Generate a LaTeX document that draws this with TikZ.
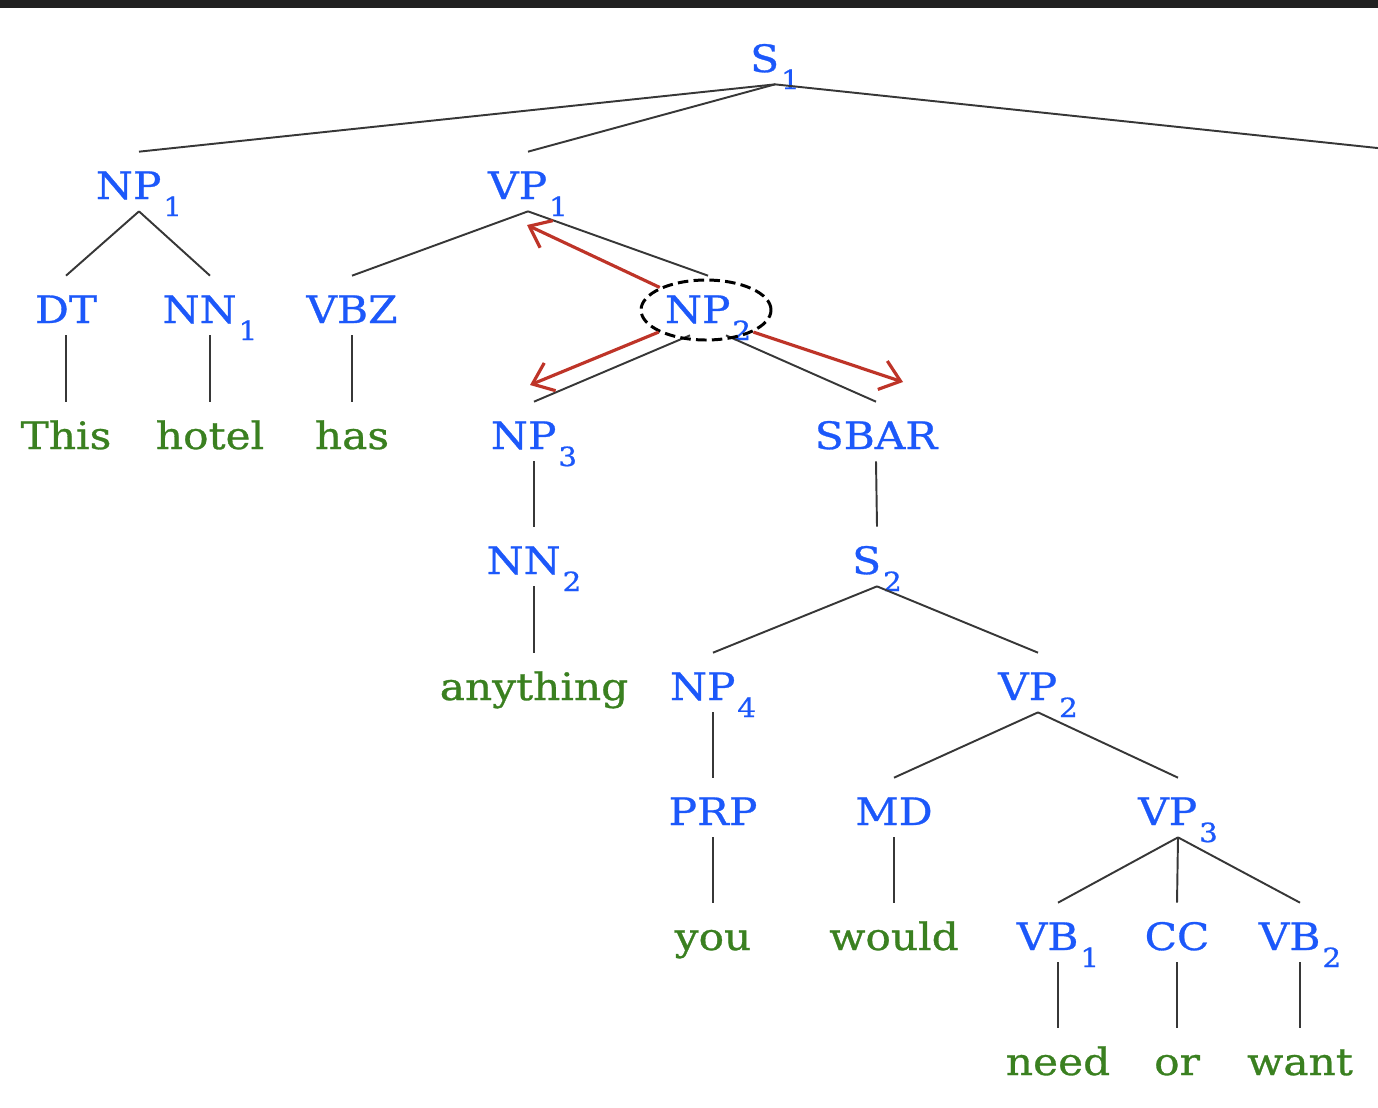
\documentclass[tikz,border=0pt]{standalone}
\usepackage{fontspec}
\setmainfont{DejaVu Serif}[FakeStretch=1.12,FakeBold=0.8]
\usetikzlibrary{shapes.geometric,arrows.meta}
\definecolor{catblue}{RGB}{28,88,250}
\definecolor{wordgreen}{RGB}{58,128,32}
\definecolor{moved}{RGB}{190,52,40}
\definecolor{edgegray}{RGB}{55,55,55}
\newcommand\tsub[1]{\hspace{0.05em}\raisebox{-0.45em}{\fontsize{15}{15}\selectfont #1}}
\tikzset{
	lab/.style={inner sep=0pt,anchor=base,text height=0.94cm,text depth=0.24cm,font=\fontsize{21.5}{24}\selectfont},
	cat/.style={lab,text=catblue},
	word/.style={lab,text=wordgreen},
	edge/.style={edgegray,line width=1.1pt},
	move/.style={moved,line width=1.8pt,-{Straight Barb[length=3.8mm,width=6mm,line width=1.8pt]}},
}

\begin{document}
\begin{tikzpicture}[x=0.02cm,y=-0.02cm]
	\useasboundingbox (0,0) rectangle (1378,1107);
	\clip (0,0) rectangle (1378,1107);
	\fill[black!87] (0,0) rectangle (1378,8);

	\node[cat] (s1) at (775,72) {S\tsub{1}};
	\node[cat] (np1) at (139,199) {NP\tsub{1}};
	\node[cat] (vp1) at (528,199) {VP\tsub{1}};
	\coordinate (rest) at (1420,152.5);
	\node[cat] (dt) at (66,323) {DT};
	\node[cat] (nn1) at (210,323) {NN\tsub{1}};
	\node[cat] (vbz) at (352,323) {VBZ};
	\node[cat] (np2) at (708,323) {NP\tsub{2}};
	\node[word] (this) at (66,449) {This};
	\node[word] (hotel) at (210,449) {hotel};
	\node[word] (has) at (352,449) {has};
	\node[cat] (np3) at (534,449) {NP\tsub{3}};
	\node[cat] (sbar) at (876,449) {SBAR};
	\node[cat] (nn2) at (534,574) {NN\tsub{2}};
	\node[cat] (s2) at (877,574) {S\tsub{2}};
	\node[word] (anything) at (534,700) {anything};
	\node[cat] (np4) at (713,700) {NP\tsub{4}};
	\node[cat] (vp2) at (1038,700) {VP\tsub{2}};
	\node[cat] (prp) at (713,825) {PRP};
	\node[cat] (md) at (894,825) {MD};
	\node[cat] (vp3) at (1178,825) {VP\tsub{3}};
	\node[word] (you) at (713,950) {you};
	\node[word] (would) at (894,950) {would};
	\node[cat] (vb1) at (1058,950) {VB\tsub{1}};
	\node[cat] (cc) at (1177,950) {CC};
	\node[cat] (vb2) at (1300,950) {VB\tsub{2}};
	\node[word] (need) at (1058,1075) {need};
	\node[word] (or) at (1177,1075) {or};
	\node[word] (want) at (1300,1075) {want};

	\draw[edge] (s1.south) -- (np1.north);
	\draw[edge] (s1.south) -- (vp1.north);
	\draw[edge] (s1.south) -- (rest);
	\draw[edge] (np1.south) -- (dt.north);
	\draw[edge] (np1.south) -- (nn1.north);
	\draw[edge] (vp1.south) -- (vbz.north);
	\draw[edge] (vp1.south) -- (np2.north);
	\draw[edge] (dt.south) -- (this.north);
	\draw[edge] (nn1.south) -- (hotel.north);
	\draw[edge] (vbz.south) -- (has.north);
	\draw[edge] (np2.south) ++(-18,0) -- (np3.north);
	\draw[edge] (np2.south) ++(18,0) -- (sbar.north);
	\draw[edge] (np3.south) -- (nn2.north);
	\draw[edge] (nn2.south) -- (anything.north);
	\draw[edge] (sbar.south) -- (s2.north);
	\draw[edge] (s2.south) -- (np4.north);
	\draw[edge] (s2.south) -- (vp2.north);
	\draw[edge] (np4.south) -- (prp.north);
	\draw[edge] (prp.south) -- (you.north);
	\draw[edge] (vp2.south) -- (md.north);
	\draw[edge] (vp2.south) -- (vp3.north);
	\draw[edge] (md.south) -- (would.north);
	\draw[edge] (vp3.south) -- (vb1.north);
	\draw[edge] (vp3.south) -- (cc.north);
	\draw[edge] (vp3.south) -- (vb2.north);
	\draw[edge] (vb1.south) -- (need.north);
	\draw[edge] (cc.south) -- (or.north);
	\draw[edge] (vb2.south) -- (want.north);

	\node[ellipse,draw,dash pattern=on 6pt off 3pt,line width=1.7pt,minimum width=2.6cm,minimum height=1.2cm,inner sep=0pt] (np2ring) at (706,310) {};
	\coordinate (upvp) at (527,225);
	\coordinate (downnp) at (530,385);
	\coordinate (downsbar) at (903,382);
	\draw[move] (np2ring.154) -- (upvp);
	\draw[move] (np2ring.205) -- (downnp);
	\draw[move] (np2ring.335) -- (downsbar);
\end{tikzpicture}
\end{document}
